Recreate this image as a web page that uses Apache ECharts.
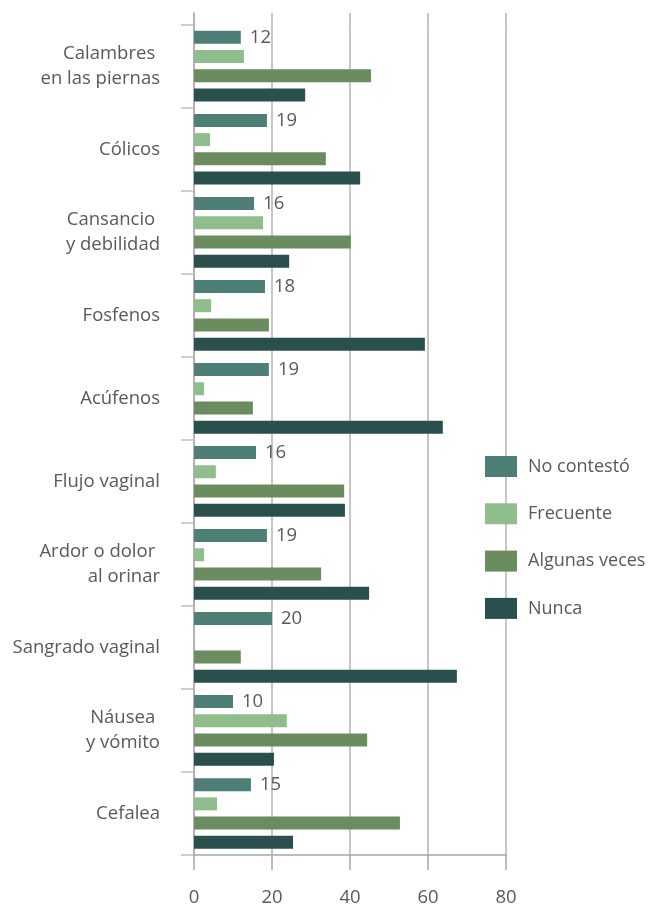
<!DOCTYPE html>
<html>
<head>
<meta charset="utf-8">
<script src="https://cdn.jsdelivr.net/npm/echarts@6/dist/echarts.min.js"></script>
<style>
html,body{margin:0;padding:0;background:#fff;}
#c{width:651px;height:907px;}
</style>
</head>
<body>
<div id="c"></div>
<script>
const categories = ['Calambres \nen las piernas', 'Cólicos', 'Cansancio \ny debilidad', 'Fosfenos', 'Acúfenos', 'Flujo vaginal', 'Ardor o dolor \nal orinar', 'Sangrado vaginal', 'Náusea \ny vómito', 'Cefalea'];
const seriesNames = ['No contestó', 'Frecuente', 'Algunas veces', 'Nunca'];
const noContesto = [12, 18.7, 15.4, 18.2, 19.2, 15.9, 18.7, 20, 10, 14.6];
const noContestoLabels = ['12', '19', '16', '18', '19', '16', '19', '20', '10', '15'];
const frecuente = [12.8, 4.1, 17.7, 4.4, 2.6, 5.6, 2.6, 0, 23.8, 5.9];
const algunasVeces = [45.4, 33.8, 40.2, 19.2, 15.1, 38.5, 32.6, 12.0, 44.4, 52.8];
const nunca = [28.5, 42.6, 24.4, 59.2, 63.8, 38.7, 44.9, 67.4, 20.5, 25.4];
const xTicks = [0, 20, 40, 60, 80];

const colors = ['#4d7f77', '#8fbe8c', '#6a8c5e', '#2a504d'];
const txt = '#595959';
const font = 'Open Sans';

const chart = echarts.init(document.getElementById('c'), null, {renderer: 'canvas'});
const seriesData = [noContesto, frecuente, algunasVeces, nunca];

const series = seriesData.map((d, i) => {
  const s = {
    name: seriesNames[i],
    type: 'bar',
    xAxisIndex: 0,
    yAxisIndex: 0,
    data: d,
    barWidth: 13,
    barGap: '48%',
    itemStyle: {color: colors[i]},
    emphasis: {disabled: true},
    animation: false
  };
  if (i === 0) {
    s.label = {
      show: true,
      position: 'right',
      distance: 9,
      fontFamily: font,
      fontSize: 18.5,
      color: txt,
      formatter: p => noContestoLabels[p.dataIndex]
    };
  }
  return s;
});

chart.setOption({
  animation: false,
  color: colors,
  textStyle: {fontFamily: font},
  grid: [
    {left: 194, right: 145, top: 24.7, bottom: 49, containLabel: false},
    {left: 194, right: 145, top: 13, height: 11.7, containLabel: false}
  ],
  legend: {
    orient: 'vertical',
    left: 480,
    top: 451,
    itemWidth: 32,
    itemHeight: 21,
    itemGap: 26.3,
    icon: 'rect',
    selectedMode: false,
    data: seriesNames,
    textStyle: {fontFamily: font, fontSize: 18, color: txt, lineHeight: 21, padding: [0, 0, 0, 6]}
  },
  xAxis: [
    {
      type: 'value',
      gridIndex: 0,
      min: xTicks[0],
      max: xTicks[xTicks.length - 1],
      interval: xTicks[1] - xTicks[0],
      axisLine: {show: true, lineStyle: {color: '#a6a6a6', width: 1.5}},
      axisTick: {show: true, length: 15, lineStyle: {color: '#a6a6a6', width: 1.5}},
      axisLabel: {show: true, margin: 33, fontFamily: font, fontSize: 18.5, color: txt},
      splitLine: {show: true, showMinLine: false, lineStyle: {color: '#b3b3b3', width: 1.5}}
    },
    {
      type: 'value',
      gridIndex: 1,
      min: xTicks[0],
      max: xTicks[xTicks.length - 1],
      interval: xTicks[1] - xTicks[0],
      axisLine: {show: false},
      axisTick: {show: false},
      axisLabel: {show: false},
      splitLine: {show: true, showMinLine: false, lineStyle: {color: '#b3b3b3', width: 1.5}}
    }
  ],
  yAxis: [
    {
      type: 'category',
      gridIndex: 0,
      inverse: true,
      data: categories,
      axisLine: {show: true, lineStyle: {color: '#999999', width: 1.5}},
      axisTick: {show: true, length: 13, lineStyle: {color: '#bfbfbf', width: 1.5}},
      axisLabel: {show: true, margin: 34, fontFamily: font, fontSize: 18.5, color: txt, lineHeight: 25, align: 'right'},
      splitLine: {show: false}
    },
    {
      type: 'category',
      gridIndex: 1,
      data: [''],
      axisLine: {show: true, lineStyle: {color: '#999999', width: 1.5}},
      axisTick: {show: false},
      axisLabel: {show: false},
      splitLine: {show: false}
    }
  ],
  series: series
});
</script>
</body>
</html>
